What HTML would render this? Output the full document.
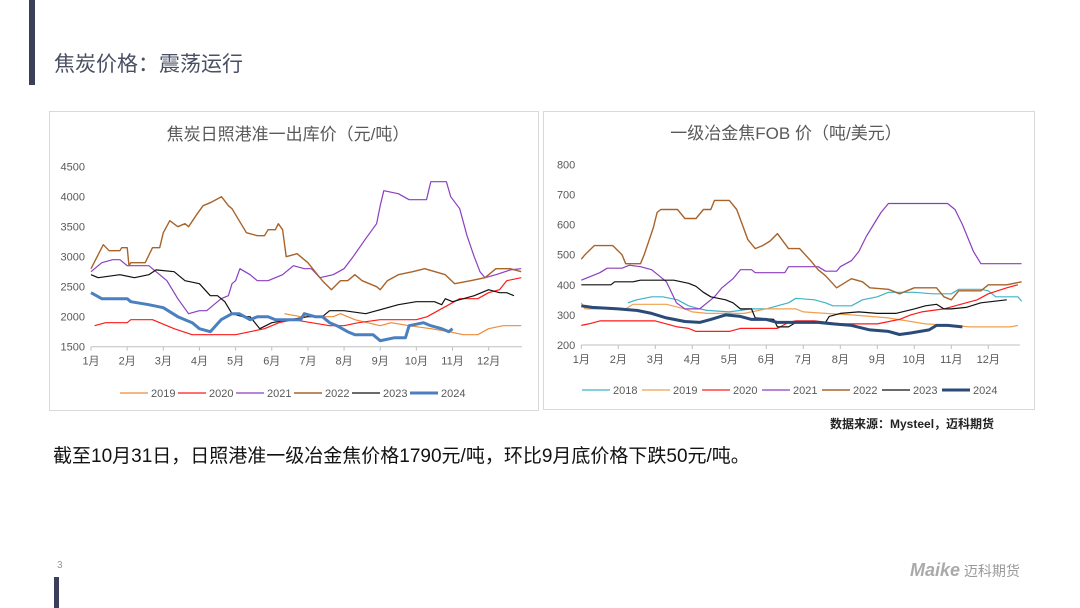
<!DOCTYPE html>
<html><head><meta charset="utf-8">
<style>
body{margin:0;width:1080px;height:608px;background:#fff;position:relative;overflow:hidden;font-family:"Liberation Sans","Noto Sans CJK SC",sans-serif}
.abs{position:absolute}
</style></head><body>
<div class="abs" style="left:29px;top:0;width:6px;height:85px;background:#3b3f5c"></div>
<div class="abs" style="left:54px;top:48px;font-size:21px;color:#4a4f63;white-space:nowrap">焦炭价格：震荡运行</div>
<div class="abs" style="left:49px;top:111px;width:490px;height:300px;border:1px solid #d9d9d9;box-sizing:border-box"></div>
<div class="abs" style="left:543px;top:111px;width:492px;height:299px;border:1px solid #d9d9d9;box-sizing:border-box"></div>
<svg class="abs" style="left:0;top:0" width="1080" height="608" id="svg"></svg>
<div class="abs" style="left:830px;top:415px;font-size:12px;font-weight:bold;color:#222;white-space:nowrap">数据来源：Mysteel，迈科期货</div>
<div class="abs" style="left:53px;top:441px;font-size:19px;color:#111;white-space:nowrap">截至10月31日，日照港准一级冶金焦价格1790元/吨，环比9月底价格下跌50元/吨。</div>
<div class="abs" style="left:57px;top:560px;font-size:10px;color:#999">3</div>
<div class="abs" style="left:54px;top:577px;width:5px;height:31px;background:#3b3f5c"></div>
<div class="abs" style="left:910px;top:560px;font-size:18px;font-weight:bold;font-style:italic;color:#aaa;white-space:nowrap">Maike<span style="font-style:normal;font-size:14px;font-weight:normal;color:#999"> 迈科期货</span></div>
<script>
const months=["1月","2月","3月","4月","5月","6月","7月","8月","9月","10月","11月","12月"];
const leftTicks=[1500,2000,2500,3000,3500,4000,4500];
const rightTicks=[200,300,400,500,600,700,800];
const leftYears=["2019","2020","2021","2022","2023","2024"];
const rightYears=["2018","2019","2020","2021","2022","2023","2024"];
// left chart series: [month position, price]
const L2019=[[5.35,2050],[5.8,2000],[6.7,2000],[6.9,2050],[7.3,1950],[8.0,1850],[8.3,1900],[8.8,1850],[9.4,1800],[9.9,1750],[10.3,1700],[10.7,1700],[11.0,1800],[11.4,1850],[11.9,1850]];
const L2020=[[0.1,1850],[0.4,1900],[1.0,1900],[1.1,1950],[1.7,1950],[1.9,1900],[2.3,1800],[2.8,1700],[4.0,1700],[4.4,1750],[4.8,1800],[5.2,1900],[5.6,1950],[6.1,1900],[6.6,1850],[7.0,1850],[7.4,1900],[8.0,1950],[9.0,1950],[9.3,2000],[9.6,2100],[9.9,2200],[10.2,2300],[10.7,2300],[11.0,2400],[11.3,2450],[11.5,2600],[11.9,2650]];
const L2021=[[0,2750],[0.3,2900],[0.6,2950],[0.8,2950],[1.0,2850],[1.6,2850],[1.9,2700],[2.1,2600],[2.4,2300],[2.7,2050],[3.0,2100],[3.2,2100],[3.6,2300],[3.8,2350],[3.9,2550],[4.0,2600],[4.12,2800],[4.4,2700],[4.6,2600],[4.9,2600],[5.3,2700],[5.6,2850],[5.9,2800],[6.1,2800],[6.33,2650],[6.7,2700],[7.0,2800],[7.25,3000],[7.6,3300],[7.9,3550],[8.0,3850],[8.1,4100],[8.5,4050],[8.8,3950],[9.28,3950],[9.4,4250],[9.83,4250],[9.95,4000],[10.2,3800],[10.4,3350],[10.6,3000],[10.76,2750],[10.9,2650],[11.2,2700],[11.6,2780],[11.9,2800]];
const L2022=[[0,2800],[0.34,3200],[0.5,3100],[0.8,3100],[0.85,3150],[1.0,3150],[1.05,2850],[1.1,2900],[1.5,2900],[1.7,3150],[1.9,3150],[2.0,3400],[2.18,3600],[2.4,3500],[2.6,3550],[2.7,3500],[2.92,3700],[3.1,3850],[3.3,3900],[3.61,4000],[3.8,3850],[3.9,3800],[4.1,3600],[4.3,3400],[4.6,3350],[4.8,3350],[4.9,3450],[5.1,3450],[5.18,3550],[5.3,3450],[5.4,3000],[5.7,3050],[6.0,2900],[6.2,2750],[6.4,2600],[6.65,2450],[6.9,2600],[7.1,2600],[7.3,2700],[7.5,2600],[7.9,2500],[8.0,2450],[8.2,2600],[8.5,2700],[8.9,2750],[9.23,2800],[9.8,2700],[10.06,2550],[10.5,2600],[10.9,2650],[11.2,2800],[11.6,2800],[11.9,2750]];
const L2023=[[0,2700],[0.2,2650],[0.8,2700],[1.2,2650],[1.6,2700],[1.8,2780],[2.3,2750],[2.6,2600],[3.0,2550],[3.3,2350],[3.5,2350],[3.7,2250],[3.9,2050],[4.2,2000],[4.4,2000],[4.67,1800],[5.0,1900],[5.5,1950],[6.0,2000],[6.4,2000],[6.6,2100],[7.0,2100],[7.6,2050],[7.9,2100],[8.5,2200],[9.0,2250],[9.5,2250],[9.7,2200],[9.8,2300],[10.0,2250],[10.6,2350],[11.0,2450],[11.3,2400],[11.5,2400],[11.7,2350]];
const L2024=[[0,2400],[0.3,2300],[1.0,2300],[1.1,2250],[1.6,2200],[2.0,2150],[2.4,2000],[2.8,1900],[3.0,1800],[3.3,1750],[3.6,1950],[3.9,2050],[4.1,2050],[4.4,1950],[4.6,2000],[4.9,2000],[5.1,1950],[5.8,1950],[5.9,2050],[6.2,2000],[6.4,2000],[6.6,1900],[6.8,1850],[7.1,1750],[7.3,1700],[7.8,1700],[8.0,1600],[8.4,1650],[8.7,1650],[8.8,1850],[9.2,1900],[9.4,1850],[9.7,1800],[9.9,1750],[10.0,1800]];
// right chart series
const R2018=[[1.26,340],[1.5,350],[1.9,360],[2.2,360],[2.6,350],[2.9,330],[3.2,320],[3.4,315],[4.0,310],[4.6,320],[5.0,320],[5.3,330],[5.6,340],[5.8,355],[6.3,350],[6.6,340],[6.8,330],[7.3,330],[7.6,350],[8.0,360],[8.3,375],[9.0,375],[9.5,370],[10.0,370],[10.2,385],[10.8,385],[11.0,380],[11.2,360],[11.8,360],[11.9,345]];
const R2019=[[0,340],[0.1,320],[1.2,320],[1.4,335],[2.3,335],[2.8,320],[3.0,310],[3.4,305],[4.4,305],[4.6,310],[5.0,320],[5.8,320],[6.0,310],[6.6,305],[7.3,300],[8.3,290],[8.8,280],[9.3,270],[10.0,265],[10.5,260],[11.6,260],[11.8,265]];
const R2020=[[0,265],[0.2,270],[0.5,280],[2.0,280],[2.3,270],[2.6,260],[2.9,255],[3.1,245],[4.0,245],[4.3,255],[5.3,255],[5.6,275],[5.8,280],[6.3,280],[7.0,270],[8.0,270],[8.2,275],[8.6,285],[8.9,300],[9.2,310],[9.8,320],[10.4,340],[10.7,350],[11.0,370],[11.5,390],[11.8,400]];
const R2021=[[0,415],[0.1,420],[0.3,430],[0.5,440],[0.7,455],[1.1,455],[1.3,465],[1.6,460],[1.9,450],[2.2,420],[2.3,410],[2.57,340],[2.8,320],[3.2,320],[3.4,340],[3.6,360],[3.8,390],[4.1,420],[4.3,450],[4.6,450],[4.7,440],[5.5,440],[5.6,460],[6.4,460],[6.6,445],[6.9,445],[7.0,460],[7.3,480],[7.5,510],[7.7,560],[7.9,600],[8.1,640],[8.3,670],[9.9,670],[10.1,650],[10.3,600],[10.6,510],[10.8,470],[11.9,470]];
const R2022=[[0,485],[0.1,500],[0.35,530],[0.85,530],[1.1,500],[1.2,470],[1.6,470],[1.7,500],[1.95,590],[2.05,640],[2.15,650],[2.6,650],[2.8,620],[3.1,620],[3.3,650],[3.5,650],[3.6,680],[4.0,680],[4.2,650],[4.35,600],[4.5,550],[4.7,520],[4.9,530],[5.1,545],[5.3,570],[5.6,520],[5.9,520],[6.2,480],[6.4,450],[6.6,430],[6.9,390],[7.3,420],[7.6,410],[7.8,390],[8.3,385],[8.6,370],[9.0,390],[9.6,390],[9.8,360],[10.0,350],[10.2,380],[10.8,380],[11.0,400],[11.5,400],[11.9,410]];
const R2023=[[0,400],[0.8,400],[0.9,410],[1.4,410],[1.6,415],[2.5,415],[2.9,405],[3.1,395],[3.3,375],[3.5,360],[3.9,350],[4.1,340],[4.3,320],[4.6,320],[4.7,290],[5.2,285],[5.3,260],[5.6,260],[5.8,275],[6.6,275],[6.7,295],[7.0,305],[7.5,310],[8.0,305],[8.5,305],[9.0,320],[9.3,330],[9.6,335],[9.8,320],[10.0,320],[10.4,325],[10.8,340],[11.5,350]];
const R2024=[[0,330],[0.3,325],[1.0,320],[1.5,315],[1.9,305],[2.3,290],[2.8,278],[3.2,275],[3.5,285],[3.9,300],[4.3,295],[4.6,285],[5.0,285],[5.3,275],[6.4,275],[6.8,270],[7.3,265],[7.8,250],[8.3,245],[8.6,235],[8.9,240],[9.4,250],[9.6,265],[9.9,265],[10.3,260]];

const NS="http://www.w3.org/2000/svg";
const svg=document.getElementById('svg');
function el(tag,attrs,parent){const e=document.createElementNS(NS,tag);for(const k in attrs)e.setAttribute(k,attrs[k]);(parent||svg).appendChild(e);return e;}

function chart(cfg){
  const g=el('g',{});
  
  
  const xs=m=>cfg.x0+m*cfg.mw;
  const ys=v=>cfg.yb-(v-cfg.ymin)/(cfg.ymax-cfg.ymin)*cfg.yh;
  const t=el('text',{x:cfg.tx,y:cfg.ty,'text-anchor':'middle','font-size':17,fill:'#595959','font-family':'"Liberation Sans","Noto Sans CJK SC",sans-serif'},g);
  t.textContent=cfg.title;
  
  
  cfg.ticks.forEach(v=>{const tt=el('text',{x:cfg.x0-6,y:ys(v)+4,'text-anchor':'end','font-size':11,fill:'#595959'},g);tt.textContent=v;
    
    });
  el('line',{x1:cfg.x0,x2:cfg.xend,y1:cfg.yb,y2:cfg.yb,stroke:'#bfbfbf','stroke-width':1},g);
  months.forEach((m,i)=>{el('line',{x1:xs(i),x2:xs(i),y1:cfg.yb,y2:cfg.yb+4,stroke:'#bfbfbf'},g);
    const tt=el('text',{x:xs(i),y:cfg.yb+18,'text-anchor':'middle','font-size':11,fill:'#595959','font-family':'"Liberation Sans","Noto Sans CJK SC",sans-serif'},g);tt.textContent=m;
    
    });
  cfg.series.forEach(s=>{
    const p=el('polyline',{points:s.data.map(d=>xs(d[0]).toFixed(1)+','+ys(d[1]).toFixed(1)).join(' '),fill:'none',stroke:s.color,'stroke-width':s.w,'stroke-linejoin':'round'},g);
    
    
  });
  let lx=cfg.lx;
  cfg.series.forEach(s=>{
    el('line',{x1:lx,x2:lx+28,y1:cfg.ly,y2:cfg.ly,stroke:s.color,'stroke-width':s.w},g);
    const tt=el('text',{x:lx+31,y:cfg.ly+4,'font-size':11,fill:'#595959'},g);tt.textContent=s.year;
    
    
    lx+=cfg.lstep;
  });
}
chart({name:'left-chart',title:'焦炭日照港准一出库价（元/吨）',tx:288,ty:140,x0:91,mw:36.15,xend:522,yb:346.7,yh:180,ymin:1500,ymax:4500,ticks:leftTicks,lx:120,ly:393,lstep:58,
  series:[{year:leftYears[0],data:L2019,color:'#ed8b3b',w:1.2},{year:leftYears[1],data:L2020,color:'#ff1a1a',w:1.2},{year:leftYears[2],data:L2021,color:'#8a3fc0',w:1.2},{year:leftYears[3],data:L2022,color:'#a9632a',w:1.4},{year:leftYears[4],data:L2023,color:'#111',w:1.2},{year:leftYears[5],data:L2024,color:'#4a7fc0',w:3}]});
chart({name:'right-chart',title:'一级冶金焦FOB 价（吨/美元）',tx:786,ty:139,x0:581.3,mw:37,xend:1020,yb:345,yh:180.7,ymin:200,ymax:800,ticks:rightTicks,lx:582,ly:390,lstep:60,
  series:[{year:rightYears[0],data:R2018,color:'#3fb3c8',w:1.2},{year:rightYears[1],data:R2019,color:'#f0a050',w:1.2},{year:rightYears[2],data:R2020,color:'#ff1a1a',w:1.2},{year:rightYears[3],data:R2021,color:'#8a3fc0',w:1.2},{year:rightYears[4],data:R2022,color:'#a9632a',w:1.4},{year:rightYears[5],data:R2023,color:'#111',w:1.2},{year:rightYears[6],data:R2024,color:'#2a4a78',w:3}]});
</script>
</body></html>
